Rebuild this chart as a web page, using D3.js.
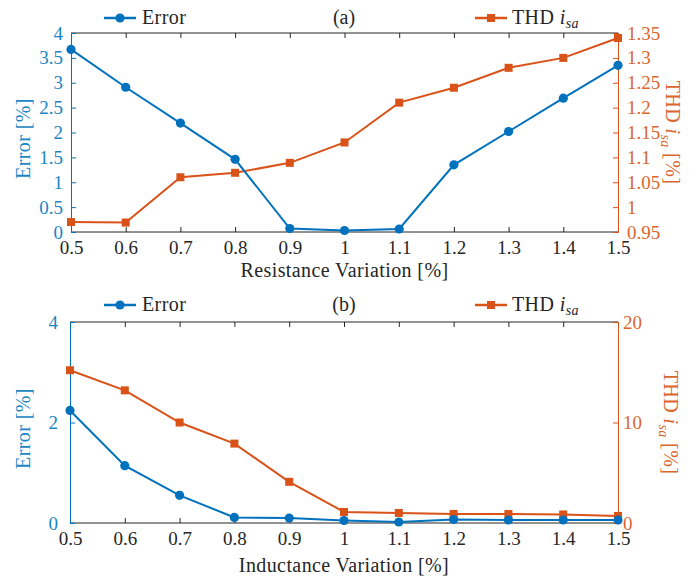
<!DOCTYPE html>
<html><head><meta charset="utf-8">
<script src="https://cdn.jsdelivr.net/npm/d3@7"></script>
<style>
html,body{margin:0;padding:0;background:#fff;}
svg text{font-family:"Liberation Serif","Times New Roman",serif;}
</style>
</head><body>
<svg id="chart" width="697" height="579"></svg>
<script>
// ---- data ----
const variation = [0.5,0.6,0.7,0.8,0.9,1.0,1.1,1.2,1.3,1.4,1.5];
const xTicks = [0.5,0.6,0.7,0.8,0.9,1.0,1.1,1.2,1.3,1.4,1.5];
const xTickLabels = ["0.5","0.6","0.7","0.8","0.9","1","1.1","1.2","1.3","1.4","1.5"];

const errorR = [3.67,2.91,2.19,1.46,0.07,0.03,0.06,1.35,2.02,2.69,3.35];
const thdR   = [0.970,0.969,1.060,1.069,1.089,1.130,1.210,1.240,1.280,1.300,1.340];
const errorTicksR = [0,0.5,1,1.5,2,2.5,3,3.5,4];
const errorTickLabelsR = ["0","0.5","1","1.5","2","2.5","3","3.5","4"];
const thdTicksR = [0.95,1.0,1.05,1.1,1.15,1.2,1.25,1.3,1.35];
const thdTickLabelsR = ["0.95","1","1.05","1.1","1.15","1.2","1.25","1.3","1.35"];

const errorL = [2.24,1.14,0.55,0.11,0.10,0.05,0.02,0.07,0.06,0.06,0.06];
const thdL   = [15.2,13.2,10.0,7.9,4.1,1.1,1.0,0.9,0.9,0.85,0.7];
const errorTicksL = [0,2,4];
const errorTickLabelsL = ["0","2","4"];
const thdTicksL = [0,10,20];
const thdTickLabelsL = ["0","10","20"];

const blue = "#0072BD", orange = "#D95319", dark = "#262626";
const blueText = "#1A86C4", orangeText = "#D9662E";

const svg = d3.select("#chart");

function panel(o){
  const g = svg.append("g");
  const x = d3.scaleLinear().domain([0.5,1.5]).range([o.left,o.right]);
  const yL = d3.scaleLinear().domain(o.lDomain).range([o.bottom,o.top]);
  const yR = d3.scaleLinear().domain(o.rDomain).range([o.bottom,o.top]);
  const fs = 19, fsL = 20;

  // bottom & top x axes (inward ticks)
  const xb = d3.axisBottom(x).tickValues(xTicks).tickSize(-5).tickFormat((d,i)=>xTickLabels[i]).tickPadding(10);
  const gxb = g.append("g").attr("transform",`translate(0,${o.bottom})`).call(xb);
  gxb.select(".domain").remove();
  gxb.selectAll("line").attr("stroke",dark);
  gxb.selectAll("text").attr("fill",dark).attr("font-size",fs).attr("dy",null).attr("y",o.xTickBase);
  const xt = d3.axisTop(x).tickValues(xTicks).tickSize(-5).tickFormat("");
  const gxt = g.append("g").attr("transform",`translate(0,${o.top})`).call(xt);
  gxt.select(".domain").remove();
  gxt.selectAll("line").attr("stroke",dark);
  g.append("line").attr("x1",o.left).attr("x2",o.right).attr("y1",o.top).attr("y2",o.top).attr("stroke",dark).attr("stroke-width",1);
  g.append("line").attr("x1",o.left).attr("x2",o.right).attr("y1",o.bottom).attr("y2",o.bottom).attr("stroke",dark).attr("stroke-width",1);

  // left axis
  const al = d3.axisLeft(yL).tickValues(o.lTicks).tickSize(-5).tickFormat((d,i)=>o.lLabels[i]).tickPadding(o.lPad);
  const gl = g.append("g").attr("transform",`translate(${o.left},0)`).call(al);
  gl.select(".domain").attr("stroke",blue);
  gl.selectAll("line").attr("stroke",blue);
  gl.selectAll("text").attr("fill",blueText).attr("font-size",fs);
  // right axis
  const ar = d3.axisRight(yR).tickValues(o.rTicks).tickSize(-5).tickFormat((d,i)=>o.rLabels[i]).tickPadding(o.rPad);
  const gr = g.append("g").attr("transform",`translate(${o.right},0)`).call(ar);
  gr.select(".domain").attr("stroke",orange);
  gr.selectAll("line").attr("stroke",orange);
  gr.selectAll("text").attr("fill",orangeText).attr("font-size",fs);

  // series
  const lineE = d3.line().x((d,i)=>x(variation[i])).y(d=>yL(d));
  const lineT = d3.line().x((d,i)=>x(variation[i])).y(d=>yR(d));
  g.append("path").datum(o.thd).attr("d",lineT).attr("fill","none").attr("stroke",orange).attr("stroke-width",2);
  g.selectAll(".sq").data(o.thd).enter().append("rect")
    .attr("x",(d,i)=>x(variation[i])-4).attr("y",d=>yR(d)-4).attr("width",8).attr("height",8).attr("fill",orange);
  g.append("path").datum(o.err).attr("d",lineE).attr("fill","none").attr("stroke",blue).attr("stroke-width",2);
  g.selectAll(".ci").data(o.err).enter().append("circle")
    .attr("cx",(d,i)=>x(variation[i])).attr("cy",d=>yL(d)).attr("r",4.6).attr("fill",blue);

  // axis titles
  g.append("text").attr("x",(o.left+o.right)/2).attr("y",o.xLabelBase).attr("text-anchor","middle")
    .attr("font-size",fsL).attr("letter-spacing",0.4).attr("fill",dark).text(o.xLabel);
  g.append("text").attr("transform",`translate(${o.lLabelX},${(o.top+o.bottom)/2+6}) rotate(-90)`)
    .attr("text-anchor","middle").attr("font-size",fsL).attr("letter-spacing",0.4).attr("fill",blueText).text("Error [%]");
  const rt = g.append("text").attr("transform",`translate(${o.rLabelX},${(o.top+o.bottom)/2}) rotate(90)`)
    .attr("text-anchor","middle").attr("font-size",fsL).attr("letter-spacing",0.4).attr("fill",orangeText);
  rt.append("tspan").text("THD ");
  rt.append("tspan").attr("font-style","italic").text("i");
  rt.append("tspan").attr("font-style","italic").attr("font-size",14).attr("dy",5).text("sa");
  rt.append("tspan").attr("dy",-5).text(" [%]");

  // title
  g.append("text").attr("x",344).attr("y",o.legY+6).attr("text-anchor","middle").attr("font-size",fsL).attr("fill",dark).text(o.title);

  // legends
  const ly = o.legY;
  g.append("line").attr("x1",104).attr("x2",136).attr("y1",ly).attr("y2",ly).attr("stroke",blue).attr("stroke-width",2.5);
  g.append("circle").attr("cx",120).attr("cy",ly).attr("r",4.6).attr("fill",blue);
  g.append("text").attr("x",142).attr("y",ly+6).attr("font-size",fsL).attr("letter-spacing",0.4).attr("fill",dark).text("Error");
  g.append("line").attr("x1",475).attr("x2",507).attr("y1",ly).attr("y2",ly).attr("stroke",orange).attr("stroke-width",2.5);
  g.append("rect").attr("x",487).attr("y",ly-4).attr("width",8).attr("height",8).attr("fill",orange);
  const lt = g.append("text").attr("x",512).attr("y",ly+6).attr("font-size",fsL).attr("letter-spacing",0.4).attr("fill",dark);
  lt.append("tspan").text("THD ");
  lt.append("tspan").attr("font-style","italic").text("i");
  lt.append("tspan").attr("font-style","italic").attr("font-size",14).attr("dy",4).text("sa");
}

panel({left:71,right:618,top:33,bottom:232,lDomain:[0,4],rDomain:[0.95,1.35],
  lTicks:errorTicksR,lLabels:errorTickLabelsR,rTicks:thdTicksR,rLabels:thdTickLabelsR,
  err:errorR,thd:thdR,lPad:8,rPad:9,xTickBase:22,xLabelBase:277,xLabel:"Resistance Variation [%]",
  lLabelX:30,rLabelX:666,title:"(a)",legY:18});
panel({left:70,right:618,top:322,bottom:523,lDomain:[0,4],rDomain:[0,20],
  lTicks:errorTicksL,lLabels:errorTickLabelsL,rTicks:thdTicksL,rLabels:thdTickLabelsL,
  err:errorL,thd:thdL,lPad:12,rPad:5,xTickBase:22,xLabelBase:572,xLabel:"Inductance Variation [%]",
  lLabelX:30,rLabelX:664,title:"(b)",legY:305});
</script>
</body></html>
